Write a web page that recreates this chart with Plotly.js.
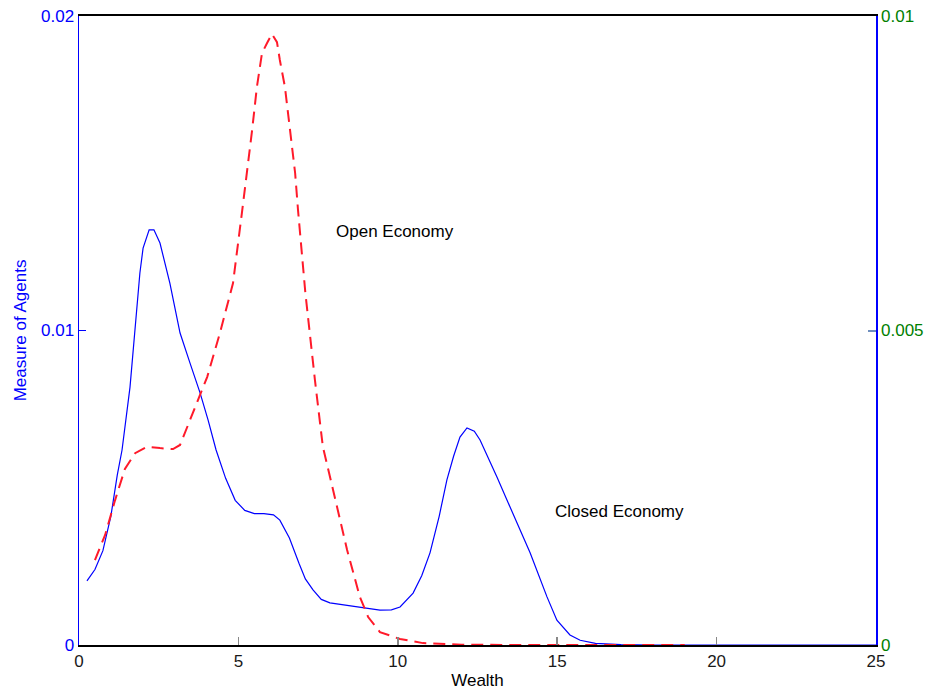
<!DOCTYPE html>
<html>
<head>
<meta charset="utf-8">
<script src="https://cdn.plot.ly/plotly-3.0.1.min.js"></script>
<style>html,body{margin:0;padding:0;background:#fff;}#chart{width:934px;height:695px;}</style>
</head>
<body>
<div id="chart"></div>
<script>
// Closed economy (blue solid)
const closedX = [0.25,0.5,0.75,1.0,1.2,1.35,1.6,1.91,2.01,2.2,2.35,2.54,2.85,3.17,3.48,3.8,4.05,4.3,4.6,4.9,5.2,5.5,5.8,6.1,6.3,6.6,6.9,7.1,7.34,7.6,7.87,8.5,9.0,9.44,9.8,10.07,10.48,10.75,11.01,11.3,11.54,11.75,11.95,12.17,12.4,12.58,13.11,13.61,14.15,14.68,14.99,15.4,15.72,16.2,17,18,19,20,21,22,23,24,25];
const closedY = [0.00204,0.0024,0.003,0.0041,0.0054,0.0062,0.0082,0.01183,0.01262,0.0132,0.0132,0.01278,0.01151,0.00992,0.00897,0.00801,0.00715,0.0062,0.0053,0.0046,0.00428,0.00418,0.00418,0.00414,0.00397,0.0034,0.0026,0.0021,0.00175,0.00145,0.00134,0.00125,0.00118,0.00111,0.00112,0.00121,0.00165,0.0022,0.00293,0.0041,0.00525,0.006,0.00661,0.0069,0.0068,0.00652,0.00534,0.0042,0.00293,0.00153,0.00079,0.00032,0.00015,0.00005,0.00001,0,0,0,0,0,0,0,0];
// Open economy (red dashed)
const openX = [0.5,0.82,1.13,1.44,1.76,2.13,2.54,2.95,3.17,3.58,4.02,4.42,4.83,5.11,5.27,5.43,5.58,5.74,5.9,6.05,6.21,6.3,6.46,6.56,6.68,6.78,6.87,7.1,7.4,7.65,7.97,8.41,8.81,9.07,9.44,10.07,10.79,12,14,16,19];
const openY = [0.0027,0.0035,0.0046,0.0056,0.0061,0.0063,0.00626,0.00623,0.00636,0.00738,0.00852,0.00992,0.0115,0.01374,0.0150,0.01637,0.01774,0.01882,0.01914,0.01943,0.01917,0.0186,0.01774,0.01692,0.01596,0.0150,0.01383,0.0112,0.00843,0.0063,0.00493,0.00302,0.00153,0.00089,0.00041,0.00019,0.00006,0.00001,0,0,0];

const xTicks = [0,5,10,15,20,25];
const xTickText = ['0','5','10','15','20','25'];
const yTicks = [0,0.01,0.02];
const yTickText = ['0','0.01','0.02'];
const y2Ticks = [0,0.005,0.01];
const y2TickText = ['0','0.005','0.01'];
const labels = ['Open Economy','Closed Economy'];
const labelX = [8.0,14.87];
const labelY = [0.01316,0.00426];

const FONT = 'Liberation Sans, Arial, sans-serif';
const FS = 17;

const traces = [
  {x: closedX, y: closedY, type:'scatter', mode:'lines', line:{color:'#0000ff', width:1.2}, hoverinfo:'skip', showlegend:false},
  {x: openX, y: openY, type:'scatter', mode:'lines', line:{color:'#ff1a2a', width:2, dash:'12px,7px'}, hoverinfo:'skip', showlegend:false},
  // empty trace so that the second (right) axes are drawn
  {x: [], y: [], xaxis:'x2', yaxis:'y2', type:'scatter', mode:'lines', hoverinfo:'skip', showlegend:false}
];

const layout = {
  width: 934, height: 695,
  margin: {l:79, r:58, t:16, b:50, pad:0},
  paper_bgcolor:'#fff', plot_bgcolor:'#fff',
  font: {family: FONT, size: FS, color:'#000'},
  showlegend:false,
  xaxis: {
    range:[0,25], tickmode:'array', tickvals:xTicks, ticktext:xTickText,
    ticks:'inside', ticklen:8, tickwidth:1, tickcolor:'#000',
    showline:true, linecolor:'#000', linewidth:2, mirror:true,
    showgrid:false, zeroline:false,
    tickfont:{family:FONT, size:FS, color:'#1a1a1a'},
    title:{text:'Wealth', font:{family:FONT, size:FS, color:'#000'}, standoff:4},
    fixedrange:true
  },
  xaxis2: {
    overlaying:'x', anchor:'y2', side:'bottom',
    range:[0,25], tickmode:'array', tickvals:xTicks,
    ticks:'inside', ticklen:8, tickwidth:1.5, tickcolor:'#888',
    showticklabels:false,
    showline:false, showgrid:false, zeroline:false,
    fixedrange:true
  },
  yaxis: {
    range:[0,0.02], tickmode:'array', tickvals:yTicks, ticktext:yTickText,
    ticks:'inside', ticklen:7, tickwidth:1, tickcolor:'#0000ff',
    showline:true, linecolor:'#0000ff', linewidth:1.5, mirror:true,
    showgrid:false, zeroline:false,
    tickfont:{family:FONT, size:FS, color:'#0000ff'},
    title:{text:'Measure of Agents', font:{family:FONT, size:FS, color:'#0000ff'}, standoff:10},
    fixedrange:true
  },
  yaxis2: {
    overlaying:'y', side:'right', anchor:'x2',
    range:[0,0.01], tickmode:'array', tickvals:y2Ticks, ticktext:y2TickText,
    ticks:'inside', ticklen:8, tickwidth:2, tickcolor:'#6f8fbf',
    ticklabelstandoff:4,
    showline:false,
    showgrid:false, zeroline:false,
    tickfont:{family:FONT, size:FS, color:'#008000'},
    fixedrange:true
  },
  annotations: labels.map((t,i)=>({
    x:labelX[i], y:labelY[i], xref:'x', yref:'y', text:t, showarrow:false,
    xanchor:'left', yanchor:'middle', font:{family:FONT, size:FS, color:'#000'}
  }))
};

Plotly.newPlot('chart', traces, layout, {staticPlot:true, displayModeBar:false});
</script>
</body>
</html>
